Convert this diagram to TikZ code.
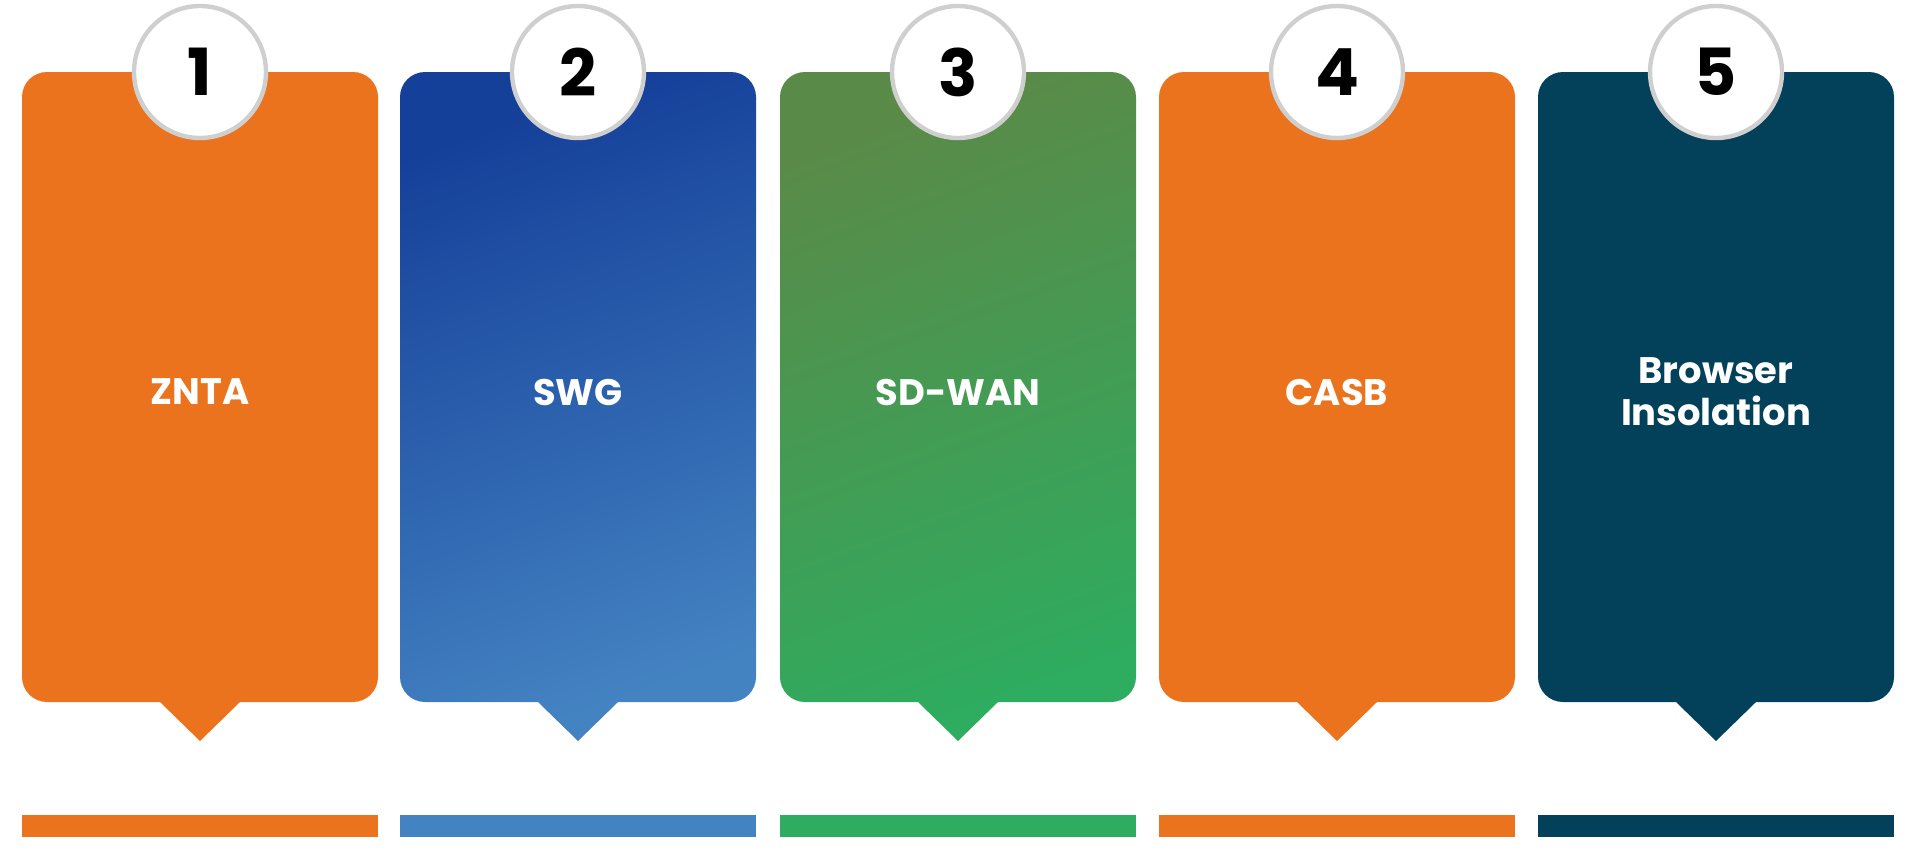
\documentclass[tikz,border=0pt]{standalone}
\usepackage{fontspec}
\setmainfont{Poppins}
\usepackage{tikz}
\usetikzlibrary{positioning,calc}
\definecolor{zOrange}{HTML}{EC731E}
\definecolor{zBlueTop}{HTML}{15409A}
\definecolor{zBlueBot}{HTML}{4483C2}
\definecolor{zGreenTop}{HTML}{5A8A48}
\definecolor{zGreenBot}{HTML}{2EAC5F}
\definecolor{zTeal}{HTML}{03415A}
\definecolor{zRing}{HTML}{CFCFCF}
\tikzset{
   step card/.style={draw=none},
   num disc/.style={circle,fill=white,draw=zRing,line width=2.5pt,minimum size=2.64cm,inner sep=0pt,
      font=\fontsize{37}{40}\selectfont\bfseries,text=black},
   card label/.style={text=white,align=center,font=\fontsize{21}{24}\selectfont\bfseries},
   foot bar/.style={minimum width=7.12cm,minimum height=0.44cm,inner sep=0pt,outer sep=0pt}
}
\begin{document}
\begin{tikzpicture}[x=0.02cm,y=-0.02cm]
  \useasboundingbox (0,0) rectangle (1920,859);
  \foreach \i/\cx/\ctop/\cbot/\cbar/\txt in {
      1/200/zOrange/zOrange/zOrange/ZNTA,
      2/578/zBlueTop/zBlueBot/zBlueBot/SWG,
      3/958/zGreenTop/zGreenBot/zGreenBot/SD-WAN,
      4/1337/zOrange/zOrange/zOrange/CASB,
      5/1716/zTeal/zTeal/zTeal/{Browser\\Insolation}} {
    % card with pointer
    \shade[step card,top color=\ctop,bottom color=\cbot,shading angle=20]
      (\cx-178,400) [rounded corners=0.5cm] -- (\cx-178,72) -- (\cx+178,72) -- (\cx+178,702)
      [sharp corners] -- (\cx+40,702) -- (\cx,741) -- (\cx-40,702)
      [rounded corners=0.5cm] -- (\cx-178,702) -- cycle;
    \node[num disc] (num\i) at (\cx,72) {\i};
    \node[card label] (lab\i) at (\cx,392) {\txt};
    \node[foot bar,fill=\cbar] (bar\i) at (\cx,826) {};
  }
\end{tikzpicture}
\end{document}
